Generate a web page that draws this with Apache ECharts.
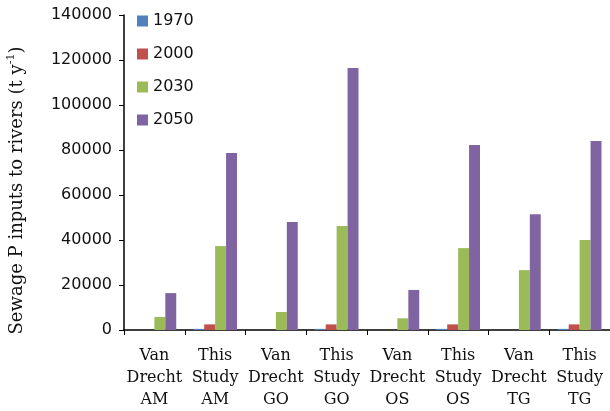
<!DOCTYPE html>
<html>
<head>
<meta charset="utf-8">
<script src="https://cdn.jsdelivr.net/npm/echarts@6/dist/echarts.min.js"></script>
<style>
  html, body { margin: 0; padding: 0; background: #fff; }
  #chart { width: 610px; height: 411px; }
</style>
</head>
<body>
<div id="chart"></div>
<script>
// categories and values
var categories = [
  "Van\nDrecht\nAM", "This\nStudy\nAM",
  "Van\nDrecht\nGO", "This\nStudy\nGO",
  "Van\nDrecht\nOS", "This\nStudy\nOS",
  "Van\nDrecht\nTG", "This\nStudy\nTG"
];
var years = ["1970", "2000", "2030", "2050"];
var v1970 = [0, 500, 0, 500, 0, 500, 0, 500];
var v2000 = [0, 2500, 0, 2500, 0, 2500, 0, 2500];
var v2030 = [5800, 37300, 8000, 46200, 5200, 36400, 26600, 40000];
var v2050 = [16400, 78700, 48000, 116400, 17800, 82200, 51500, 84000];
var yTicks = [0, 20000, 40000, 60000, 80000, 100000, 120000, 140000];

var colors = ["#4f81bd", "#c0504d", "#9bbb59", "#8064a2"];
var allData = [v1970, v2000, v2030, v2050];

var chart = echarts.init(document.getElementById("chart"));

var series = years.map(function(y, i) {
  return {
    name: y,
    type: "bar",
    data: allData[i],
    barGap: "0%",
    barCategoryGap: "28%",
    itemStyle: { color: colors[i] }
  };
});

var option = {
  animation: false,
  backgroundColor: "#fff",
  legend: {
    orient: "vertical",
    left: 137,
    top: 13,
    padding: 0,
    itemWidth: 11,
    itemHeight: 11,
    itemGap: 17,
    icon: "rect",
    textStyle: { fontFamily: "DejaVu Sans", fontSize: 16, color: "#111" },
    data: years
  },
  grid: {
    left: 124,
    right: 0,
    top: 15,
    bottom: 81,
    containLabel: false,
    outerBoundsMode: "none"
  },
  xAxis: {
    type: "category",
    data: categories,
    axisLine: { lineStyle: { color: "#000", width: 1.5 } },
    axisTick: { show: true, length: 5, lineStyle: { color: "#000" } },
    axisLabel: {
      interval: 0,
      color: "#111",
      fontFamily: "DejaVu Serif",
      fontSize: 16,
      lineHeight: 22,
      margin: 15
    }
  },
  yAxis: {
    type: "value",
    min: yTicks[0],
    max: yTicks[yTicks.length - 1],
    interval: 20000,
    name: "{a|Sewage P inputs to rivers (t y}{s|-1}{a|)}",
    nameLocation: "middle",
    nameGap: 96,
    nameTextStyle: {
      padding: [0, 36, 0, 0],
      rich: {
        a: { fontFamily: "DejaVu Serif", fontSize: 18, color: "#111", lineHeight: 22 },
        s: { fontFamily: "DejaVu Serif", fontSize: 11, color: "#111", verticalAlign: "top", lineHeight: 22 }
      }
    },
    axisLine: { show: true, lineStyle: { color: "#000", width: 1.5 } },
    axisTick: { show: true, length: 5, lineStyle: { color: "#000" } },
    splitLine: { show: false },
    axisLabel: {
      color: "#111",
      fontFamily: "DejaVu Sans",
      fontSize: 16,
      margin: 12,
      formatter: function(v) { return String(v); }
    }
  },
  series: series
};

chart.setOption(option);
</script>
</body>
</html>
